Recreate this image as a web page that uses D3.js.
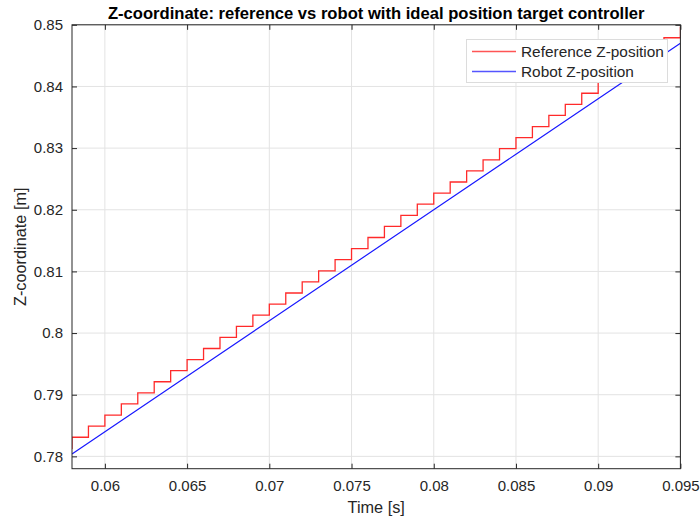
<!DOCTYPE html>
<html>
<head>
<meta charset="utf-8">
<script src="https://cdn.jsdelivr.net/npm/d3@7"></script>
<style>
  html, body { margin: 0; padding: 0; background: #fff; }
  svg { display: block; font-family: "Liberation Sans", Arial, Helvetica, sans-serif; }
</style>
</head>
<body>
<svg id="chart" width="700" height="519"></svg>
<script>
// Reference Z-position: sample-and-hold values, one per 1 ms step
const refTime = [0.057, 0.058, 0.059, 0.060, 0.061, 0.062, 0.063, 0.064, 0.065, 0.066,
                 0.067, 0.068, 0.069, 0.070, 0.071, 0.072, 0.073, 0.074, 0.075, 0.076,
                 0.077, 0.078, 0.079, 0.080, 0.081, 0.082, 0.083, 0.084, 0.085, 0.086,
                 0.087, 0.088, 0.089, 0.090, 0.091, 0.092, 0.093, 0.094, 0.095];
const refZ = [0.7813, 0.7831, 0.7849, 0.7867, 0.7885, 0.7903, 0.7921, 0.7939, 0.7957, 0.7975,
              0.7993, 0.8011, 0.8029, 0.8047, 0.8065, 0.8083, 0.8101, 0.8119, 0.8137, 0.8155,
              0.8173, 0.8191, 0.8209, 0.8227, 0.8245, 0.8263, 0.8281, 0.8299, 0.8317, 0.8335,
              0.8353, 0.8371, 0.8389, 0.8407, 0.8425, 0.8443, 0.8461, 0.8479, 0.8497];

// Robot Z-position (continuous)
const robotTime = [0.058, 0.065, 0.070, 0.075, 0.080, 0.085, 0.090, 0.095];
const robotZ = [0.7804, 0.7930, 0.8020, 0.8110, 0.8200, 0.8290, 0.8380, 0.8470];

const xTicks = [0.06, 0.065, 0.07, 0.075, 0.08, 0.085, 0.09, 0.095];
const yTicks = [0.78, 0.79, 0.80, 0.81, 0.82, 0.83, 0.84, 0.85];
const xTickLabels = ["0.06", "0.065", "0.07", "0.075", "0.08", "0.085", "0.09", "0.095"];
const yTickLabels = ["0.78", "0.79", "0.8", "0.81", "0.82", "0.83", "0.84", "0.85"];

const seriesNames = ["Reference Z-position", "Robot Z-position"];
const seriesColors = ["#ff2a2a", "#1a1aff"];
const legendColors = ["#ff5555", "#5555ff"];

const titleText = "Z-coordinate: reference vs robot with ideal position target controller";
const xLabel = "Time [s]";
const yLabel = "Z-coordinate [m]";

const svg = d3.select("#chart");
const m = { left: 72, right: 680.4, top: 24.8, bottom: 468.7 };
const axisColor = "#262626";

const x = d3.scaleLinear().domain([0.058, 0.095]).range([m.left, m.right]);
const y = d3.scaleLinear().domain([0.778, 0.85]).range([m.bottom, m.top]);

// clip for plot lines
svg.append("defs").append("clipPath").attr("id", "plotClip")
  .append("rect").attr("x", m.left).attr("y", m.top)
  .attr("width", m.right - m.left).attr("height", m.bottom - m.top);

// grid
const grid = svg.append("g").attr("stroke", "#e3e3e3").attr("stroke-width", 1);
xTicks.forEach(t => grid.append("line")
  .attr("x1", x(t)).attr("x2", x(t)).attr("y1", m.top).attr("y2", m.bottom));
yTicks.forEach(t => grid.append("line")
  .attr("x1", m.left).attr("x2", m.right).attr("y1", y(t)).attr("y2", y(t)));

// series
const plot = svg.append("g").attr("clip-path", "url(#plotClip)");
const stepLine = d3.line().curve(d3.curveStepAfter).x(d => x(d[0])).y(d => y(d[1]));
const straightLine = d3.line().x(d => x(d[0])).y(d => y(d[1]));

plot.append("path")
  .datum(refTime.map((t, i) => [t, refZ[i]]))
  .attr("d", stepLine).attr("fill", "none")
  .attr("stroke", seriesColors[0]).attr("stroke-width", 1.3);

plot.append("path")
  .datum(robotTime.map((t, i) => [t, robotZ[i]]))
  .attr("d", straightLine).attr("fill", "none")
  .attr("stroke", seriesColors[1]).attr("stroke-width", 1.2);

// axes (ticks point inward, box on all sides)
const tickLen = 5;
const fmtX = (d, i) => xTickLabels[i];
const fmtY = (d, i) => yTickLabels[i];

const styleAxis = g => {
  g.select(".domain").remove();
  g.selectAll(".tick line").attr("stroke", axisColor);
  g.selectAll(".tick text").attr("fill", axisColor).attr("font-size", 15)
    .attr("font-family", "'Liberation Sans', Arial, sans-serif");
};

svg.append("g").attr("transform", `translate(0,${m.bottom})`)
  .call(d3.axisBottom(x).tickValues(xTicks).tickFormat(fmtX).tickSizeInner(-tickLen).tickSizeOuter(0).tickPadding(12))
  .call(styleAxis);
svg.append("g").attr("transform", `translate(0,${m.top})`)
  .call(d3.axisTop(x).tickValues(xTicks).tickFormat("").tickSizeInner(-tickLen).tickSizeOuter(0))
  .call(styleAxis);
svg.append("g").attr("transform", `translate(${m.left},0)`)
  .call(d3.axisLeft(y).tickValues(yTicks).tickFormat(fmtY).tickSizeInner(-tickLen).tickSizeOuter(0).tickPadding(9))
  .call(styleAxis);
svg.append("g").attr("transform", `translate(${m.right},0)`)
  .call(d3.axisRight(y).tickValues(yTicks).tickFormat("").tickSizeInner(-tickLen).tickSizeOuter(0))
  .call(styleAxis);

// axes box
svg.append("rect")
  .attr("x", m.left).attr("y", m.top)
  .attr("width", m.right - m.left).attr("height", m.bottom - m.top)
  .attr("fill", "none").attr("stroke", axisColor).attr("stroke-width", 1);

// title and axis labels
svg.append("text").attr("x", (m.left + m.right) / 2).attr("y", 19)
  .attr("text-anchor", "middle").attr("font-size", 16.6).attr("font-weight", "bold")
  .attr("fill", "#000").text(titleText);

svg.append("text").attr("x", (m.left + m.right) / 2).attr("y", 513)
  .attr("text-anchor", "middle").attr("font-size", 16.3).attr("fill", axisColor).text(xLabel);

svg.append("text").attr("transform", `translate(26,${(m.top + m.bottom) / 2}) rotate(-90)`)
  .attr("text-anchor", "middle").attr("font-size", 16.3).attr("fill", axisColor).text(yLabel);

// legend
const lg = svg.append("g");
lg.append("rect").attr("x", 466.5).attr("y", 39.5).attr("width", 201).attr("height", 43)
  .attr("fill", "#fff").attr("stroke", "#dcdcdc").attr("stroke-width", 1);
seriesNames.forEach((name, i) => {
  const yy = 51.5 + i * 20;
  lg.append("line").attr("x1", 472).attr("x2", 516).attr("y1", yy).attr("y2", yy)
    .attr("stroke", legendColors[i]).attr("stroke-width", 1.5);
  lg.append("text").attr("x", 521).attr("y", yy + 5.5).attr("font-size", 15.4)
    .attr("fill", axisColor).text(name);
});
</script>
</body>
</html>
